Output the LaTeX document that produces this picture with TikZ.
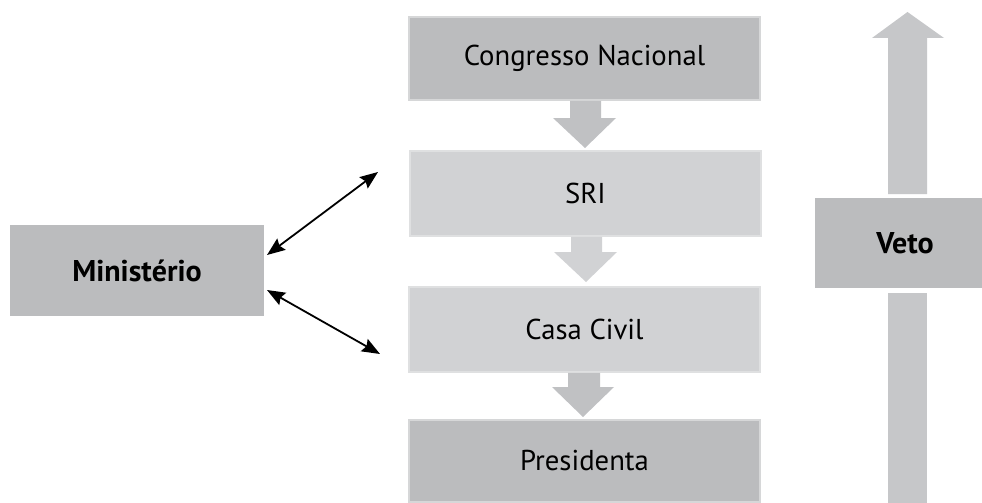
\documentclass[tikz,border=0pt]{standalone}
\usepackage{fontspec}
\setmainfont{PT Sans}
\usetikzlibrary{arrows.meta}
\definecolor{darkbox}{HTML}{BBBCBE}
\definecolor{lightbox}{HTML}{D1D2D4}
\definecolor{darkedge}{HTML}{D6D7D8}
\definecolor{lightedge}{HTML}{DFE0E1}
\definecolor{arrowdark}{HTML}{C0C1C3}
\definecolor{arrowlight}{HTML}{D1D2D4}
\definecolor{vetoarrow}{HTML}{C6C7C9}
\tikzset{
  flowbox/.style={rectangle, minimum width=351pt, inner sep=0pt, font=\fontsize{28.7}{32}\selectfont, text=black},
  darkflow/.style={flowbox, fill=darkbox, draw=darkedge, line width=1.5pt},
  lightflow/.style={flowbox, fill=lightbox, draw=lightedge, line width=1.5pt},
  sidebox/.style={rectangle, inner sep=0pt, fill=darkbox, font=\bfseries\fontsize{30}{33}\selectfont, text=black},
  dblarrow/.style={black, line width=1.8pt, {Stealth[length=18pt,width=14pt,inset=2.5pt]}-{Stealth[length=18pt,width=14pt,inset=2.5pt]}}
}
\begin{document}
\begin{tikzpicture}[x=1pt,y=-1pt]
\useasboundingbox (0,0) rectangle (982,503);
\clip (0,0) rectangle (982,503);
\fill[white] (0,0) rectangle (982,503);

% main column
\node[darkflow, minimum height=83pt] (cong) at (584.5,58.5) {Congresso Nacional};
\node[lightflow, minimum height=85pt] (sri) at (585.5,193.5) {SRI};
\node[lightflow, minimum height=85pt] (casa) at (584.5,329.5) {Casa Civil};
\node[darkflow, minimum height=82pt] (pres) at (584.5,461) {Presidenta};

% block arrows between boxes
\fill[arrowdark] (cong.south -| 570,0) -- (570,118) -- (553,118) -- (585,148) -- (616,118) -- (601,118) -- (cong.south -| 601,0) -- cycle;
\fill[arrowlight] (sri.south -| 571,0) -- (571,252) -- (554,252) -- (586,282) -- (617,252) -- (602,252) -- (sri.south -| 602,0) -- cycle;
\fill[arrowdark] (casa.south -| 568,0) -- (568,387) -- (552,387) -- (583,417) -- (614,387) -- (600,387) -- (casa.south -| 600,0) -- cycle;

% Ministerio
\node[sidebox, minimum width=254pt, minimum height=91pt] (min) at (137,270.5) {Ministério};
\coordinate (m1) at (267,255);
\coordinate (s1) at (378,172);
\coordinate (m2) at (267,290);
\coordinate (c1) at (380,354);
\draw[dblarrow] (m1) -- (s1);
\draw[dblarrow] (m2) -- (c1);

% Veto
\node[sidebox, minimum width=180pt, minimum height=90pt] (veto) at (905,243) {Veto};
\fill[vetoarrow] (888,293) rectangle (927,503);
\fill[vetoarrow] (888,194) -- (888,38) -- (872,38) -- (907.5,12) -- (944,38) -- (927,38) -- (927,194) -- cycle;
\end{tikzpicture}
\end{document}
